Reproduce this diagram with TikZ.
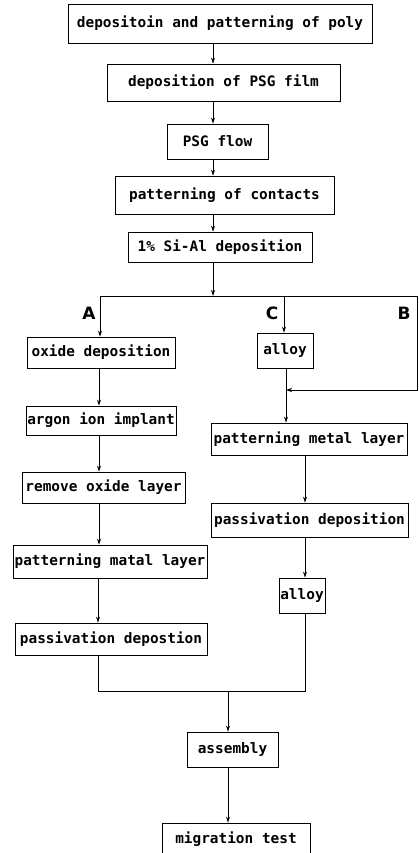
\documentclass[tikz,border=0pt]{standalone}
\usepackage{fontspec}
\setmonofont{DejaVu Sans Mono}
\setsansfont{DejaVu Sans}
\usetikzlibrary{arrows.meta}

\tikzset{
  box/.style={draw, line width=0.9pt, inner sep=0pt,
    font=\ttfamily\bfseries\fontsize{14.4}{16}\selectfont},
  arr/.style={line width=0.8pt, -{Stealth[length=6pt,width=4pt]}},
  conn/.style={line width=0.8pt},
  branch/.style={font=\sffamily\bfseries\fontsize{17}{17}\selectfont}
}

\begin{document}
\begin{tikzpicture}[x=1pt,y=-1pt]
\useasboundingbox (0,0) rectangle (419,853);

%skupni koraki
\node[box,minimum width=304pt,minimum height=39pt] (poly) at (220,23.5) {depositoin and patterning of poly};
\node[box,minimum width=233pt,minimum height=37pt] (psg) at (223.5,82.5) {deposition of PSG film};
\node[box,minimum width=101pt,minimum height=35pt] (flow) at (217.5,141.5) {PSG flow};
\node[box,minimum width=219pt,minimum height=38pt] (contacts) at (224.5,195) {patterning of contacts};
\node[box,minimum width=184pt,minimum height=30pt] (sial) at (220,247) {1\% Si-Al deposition};

%veja A
\node[box,minimum width=148pt,minimum height=31pt] (oxide) at (101,352.5) {oxide deposition};
\node[box,minimum width=150pt,minimum height=29pt] (argon) at (101,420.5) {argon ion implant};
\node[box,minimum width=163pt,minimum height=31pt] (remove) at (103.5,487.5) {remove oxide layer};
\node[box,minimum width=194pt,minimum height=33pt] (metall) at (110,561.5) {patterning matal layer};
\node[box,minimum width=192pt,minimum height=32pt] (passl) at (111,639) {passivation depostion};

%veji C in B
\node[box,minimum width=56pt,minimum height=35pt] (alloyc) at (285,350.5) {alloy};
\node[box,minimum width=196pt,minimum height=32pt] (metalr) at (309,439) {patterning metal layer};
\node[box,minimum width=197pt,minimum height=34pt] (passr) at (309.5,520) {passivation deposition};
\node[box,minimum width=46pt,minimum height=35pt] (alloyr) at (302,595.5) {alloy};

%konec
\node[box,minimum width=91pt,minimum height=35pt] (assembly) at (232.5,749.5) {assembly};
\node[box,minimum width=148pt,minimum height=33pt] (migration) at (236,839.5) {migration test};

\node[branch] (la) at (89,313) {A};
\node[branch] (lc) at (272,313) {C};
\node[branch] (lb) at (404,313) {B};

%povezave
\coordinate (axis) at (213,0);
\coordinate (lcol) at (99,0);
\coordinate (rcol) at (305,0);
\coordinate (split) at (213,296);
\coordinate (ja) at (100,296);
\coordinate (jc) at (284,296);
\coordinate (jb) at (417,296);
\coordinate (bend) at (417,390);
\coordinate (merge) at (286,390);
\coordinate (jl) at (98,691);
\coordinate (jr) at (305,691);
\coordinate (jm) at (228,691);

\draw[arr] (poly.south -| axis) -- (psg.north -| axis);
\draw[arr] (psg.south -| axis) -- (flow.north -| axis);
\draw[arr] (flow.south -| axis) -- (contacts.north -| axis);
\draw[arr] (contacts.south -| axis) -- (sial.north -| axis);
\draw[arr] (sial.south -| axis) -- (split);
\draw[conn] (ja) -- (jb);

\draw[arr] (ja) -- (oxide.north -| ja);
\draw[arr] (oxide.south -| lcol) -- (argon.north -| lcol);
\draw[arr] (argon.south -| lcol) -- (remove.north -| lcol);
\draw[arr] (remove.south -| lcol) -- (metall.north -| lcol);
\draw[arr] (metall.south -| jl) -- (passl.north -| jl);

\draw[arr] (jc) -- (alloyc.north -| jc);
\draw[arr] (jb) -- (bend) -- (merge);
\draw[conn] (alloyc.south -| merge) -- (merge);
\draw[arr] (merge) -- (metalr.north -| merge);
\draw[arr] (metalr.south -| rcol) -- (passr.north -| rcol);
\draw[arr] (passr.south -| rcol) -- (alloyr.north -| rcol);

\draw[conn] (passl.south -| jl) -- (jl) -- (jr) -- (alloyr.south -| jr);
\draw[arr] (jm) -- (assembly.north -| jm);
\draw[arr] (assembly.south -| jm) -- (migration.north -| jm);
\end{tikzpicture}
\end{document}
